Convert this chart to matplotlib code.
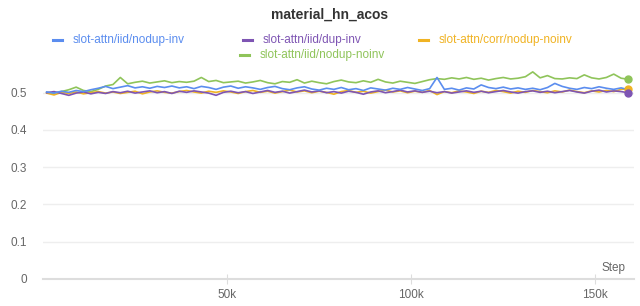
import numpy as np
import matplotlib.pyplot as plt
from matplotlib.lines import Line2D
from matplotlib.ticker import FuncFormatter

plt.rcParams['font.family'] = ['Liberation Sans', 'DejaVu Sans']

steps = list(range(1000, 161000, 2000))

green = [0.501, 0.499, 0.503, 0.508, 0.515, 0.506, 0.503, 0.509, 0.518, 0.522,
         0.541, 0.524, 0.528, 0.531, 0.526, 0.529, 0.532, 0.527, 0.530, 0.528,
         0.531, 0.541, 0.530, 0.533, 0.527, 0.529, 0.531, 0.526, 0.529, 0.533,
         0.527, 0.524, 0.530, 0.528, 0.535, 0.526, 0.531, 0.527, 0.524, 0.530,
         0.534, 0.529, 0.527, 0.532, 0.528, 0.536, 0.529, 0.526, 0.531, 0.528,
         0.525, 0.530, 0.535, 0.538, 0.536, 0.540, 0.537, 0.541, 0.536, 0.539,
         0.534, 0.538, 0.541, 0.537, 0.539, 0.543, 0.556, 0.540, 0.546, 0.538,
         0.537, 0.540, 0.538, 0.548, 0.540, 0.537, 0.541, 0.550, 0.539, 0.536]

blue = [0.502, 0.499, 0.504, 0.501, 0.506, 0.503, 0.508, 0.512, 0.517, 0.511,
        0.515, 0.519, 0.513, 0.516, 0.512, 0.517, 0.514, 0.518, 0.513, 0.516,
        0.511, 0.517, 0.514, 0.509, 0.515, 0.518, 0.512, 0.516, 0.513, 0.509,
        0.514, 0.517, 0.511, 0.508, 0.513, 0.516, 0.510, 0.507, 0.512, 0.509,
        0.514, 0.508, 0.511, 0.506, 0.513, 0.510, 0.507, 0.512, 0.509, 0.514,
        0.510, 0.506, 0.511, 0.541, 0.509, 0.512, 0.507, 0.513, 0.510, 0.521,
        0.514, 0.511, 0.515, 0.510, 0.513, 0.509, 0.512, 0.508, 0.514, 0.525,
        0.517, 0.512, 0.509, 0.514, 0.511, 0.516, 0.512, 0.509, 0.513, 0.508]

purple = [0.500, 0.503, 0.498, 0.493, 0.499, 0.502, 0.497, 0.501, 0.498, 0.503,
          0.500, 0.504, 0.499, 0.502, 0.505, 0.500, 0.503, 0.498, 0.504, 0.501,
          0.505, 0.502, 0.499, 0.493, 0.501, 0.504, 0.500, 0.503, 0.498, 0.502,
          0.506, 0.501, 0.504, 0.499, 0.503, 0.507, 0.502, 0.505, 0.500, 0.503,
          0.499, 0.504, 0.501, 0.496, 0.502, 0.505, 0.500, 0.503, 0.507, 0.502,
          0.505, 0.501, 0.504, 0.500, 0.503, 0.499, 0.502, 0.505, 0.501, 0.504,
          0.500, 0.503, 0.506, 0.502, 0.499, 0.503, 0.505, 0.501, 0.504, 0.500,
          0.503, 0.506, 0.502, 0.499, 0.504, 0.507, 0.502, 0.505, 0.503, 0.500]

orange = [0.499, 0.494, 0.501, 0.498, 0.502, 0.497, 0.500, 0.503, 0.499, 0.502,
          0.498, 0.501, 0.504, 0.497, 0.502, 0.505, 0.501, 0.499, 0.503, 0.506,
          0.502, 0.499, 0.504, 0.501, 0.505, 0.502, 0.498, 0.503, 0.506, 0.501,
          0.504, 0.499, 0.503, 0.507, 0.502, 0.505, 0.500, 0.504, 0.501, 0.496,
          0.503, 0.506, 0.501, 0.504, 0.499, 0.503, 0.507, 0.502, 0.505, 0.500,
          0.504, 0.501, 0.506, 0.495, 0.503, 0.500, 0.505, 0.502, 0.498, 0.504,
          0.501, 0.506, 0.503, 0.499, 0.504, 0.501, 0.506, 0.503, 0.500, 0.505,
          0.502, 0.507, 0.503, 0.500, 0.505, 0.502, 0.506, 0.503, 0.509, 0.511]

names = ['slot-attn/iid/nodup-inv', 'slot-attn/iid/dup-inv',
         'slot-attn/corr/nodup-noinv', 'slot-attn/iid/nodup-noinv']
colors = ['#5b8def', '#7e55b3', '#f0b323', '#8fc45a']
yticks = [0, 0.1, 0.2, 0.3, 0.4, 0.5]
xticks = [50000, 100000, 150000]

W, H = 640, 306
fig = plt.figure(figsize=(W / 100, H / 100), dpi=100)
ax = fig.add_axes([43 / W, (H - 278.7) / H, (634 - 43) / W, (278.7 - 70.4) / H])

series = {names[0]: blue, names[1]: purple, names[2]: orange, names[3]: green}
order = [3, 2, 1, 0]
for k in order:
    ax.plot(steps, series[names[k]], color=colors[k], lw=1.2, zorder=3 + (3 - k))
    if k != 0:
        ax.plot(steps[-1], series[names[k]][-1], 'o', color=colors[k], ms=5,
                zorder=8)

ax.set_xlim(0, 160500)
ax.set_ylim(0, 0.56)
ax.set_yticks(yticks)
ax.set_xticks(xticks)
ax.yaxis.set_major_formatter(FuncFormatter(lambda v, p: '0' if v == 0 else f'{v:.1f}'))
ax.xaxis.set_major_formatter(FuncFormatter(lambda v, p: f'{int(v / 1000)}k'))
ax.grid(axis='y', color='#eeeeee', lw=1)
for s in ['top', 'right', 'left']:
    ax.spines[s].set_visible(False)
ax.spines['bottom'].set_color('#dddddd')
ax.spines['bottom'].set_linewidth(1.5)
ax.tick_params(axis='y', length=0, pad=11.5, labelsize=8.5, labelcolor='#666666')
ax.tick_params(axis='x', direction='inout', length=7.5, width=0.8, color='#dddddd',
               pad=4, labelsize=8.5, labelcolor='#666666')

fig.text(625 / W, (H - 268) / H, 'Step', ha='right', va='center', fontsize=8.5,
         color='#666666')
fig.text(330 / W, (H - 15) / H, 'material_hn_acos', ha='center', va='center',
         fontsize=10, fontweight='bold', color='#333333')

# legend, drawn by hand: three on the first row, one centred below
leg = [(53, 40, 0), (243, 40, 1), (419, 40, 2), (240, 55, 3)]
for x0, y0, k in leg:
    yy = (H - y0) / H
    fig.add_artist(Line2D([x0 / W, (x0 + 9) / W], [yy, yy], color=colors[k], lw=2.2))
    fig.text((x0 + 20) / W, yy, names[k], ha='left', va='center', fontsize=8.5,
             color=colors[k])

fig.savefig('out.png', dpi=100)
